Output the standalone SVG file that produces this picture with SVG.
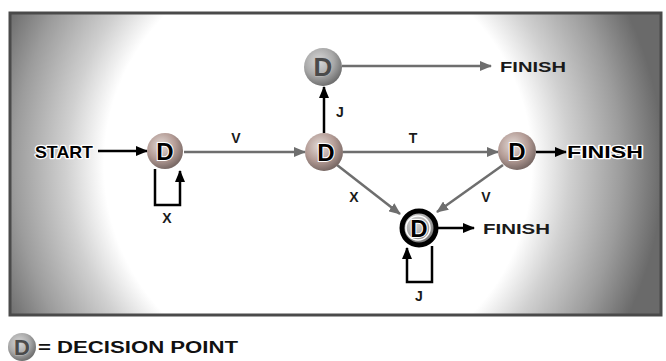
<svg xmlns="http://www.w3.org/2000/svg" width="666" height="361" viewBox="0 0 666 361">
  <defs>
    <radialGradient id="haze" gradientUnits="userSpaceOnUse" cx="318" cy="165" r="345">
      <stop offset="0" stop-color="#ffffff"/>
      <stop offset="0.62" stop-color="#ffffff"/>
      <stop offset="0.73" stop-color="#d0d0d0"/>
      <stop offset="0.88" stop-color="#9c9c9c"/>
      <stop offset="1" stop-color="#6a6a6a"/>
    </radialGradient>
    <radialGradient id="ball" cx="0.4" cy="0.35" r="0.65">
      <stop offset="0" stop-color="#e4dcd8"/>
      <stop offset="0.6" stop-color="#b49c96"/>
      <stop offset="1" stop-color="#7a6a66"/>
    </radialGradient>
    <radialGradient id="ballGrey" cx="0.4" cy="0.35" r="0.65">
      <stop offset="0" stop-color="#d8d8d8"/>
      <stop offset="0.6" stop-color="#a8a8a8"/>
      <stop offset="1" stop-color="#707070"/>
    </radialGradient>
    <marker id="ahBlack" markerUnits="userSpaceOnUse" markerWidth="12" markerHeight="10" refX="11" refY="5" orient="auto">
      <path d="M0,0 L12,5 L0,10 Z" fill="#000"/>
    </marker>
    <marker id="ahGrey" markerUnits="userSpaceOnUse" markerWidth="12" markerHeight="10" refX="11" refY="5" orient="auto">
      <path d="M0,0 L12,5 L0,10 Z" fill="#6e6e6e"/>
    </marker>
  </defs>
  <style>
    .txt { font-family: "Liberation Sans", Arial, sans-serif; font-weight: bold; }
    .heavy { font-size: 17px; fill: #000; stroke: #fff; stroke-width: 2.5; paint-order: stroke; stroke-linejoin: round; }
    .finish { font-size: 15px; fill: #1a1a1a; }
    .lbl { font-size: 14px; fill: #1a1a1a; text-anchor: middle; }
    .legend { font-size: 16px; fill: #111; }
    .dark { fill: none; stroke: #000; stroke-width: 2.5; marker-end: url(#ahBlack); }
    .grey { fill: none; stroke: #6e6e6e; stroke-width: 2.5; marker-end: url(#ahGrey); }
    .sphere { fill: url(#ball); }
    .sphereGrey { fill: url(#ballGrey); }
    .nodeD { font-family: "Liberation Sans", Arial, sans-serif; font-weight: bold; font-size: 24px; text-anchor: middle; fill: #000; stroke: #fff; stroke-width: 2; paint-order: stroke; }
    .nodeDsoft { font-family: "Liberation Sans", Arial, sans-serif; font-weight: bold; font-size: 26px; text-anchor: middle; fill: #4a4a4a; stroke: #bdbdbd; stroke-width: 1; paint-order: stroke; }
  </style>

  <!-- panel with hazy grey edges -->
  <rect x="10" y="13" width="651" height="302" fill="url(#haze)" stroke="#4a4a4a" stroke-width="3"/>

  <!-- connectors -->
  <g id="connectors">
    <path class="dark" d="M98,151 H147"/>
    <path class="grey" d="M184,152 H305"/>
    <path class="dark" d="M155,169 V205 H180 V171"/>
    <path class="dark" d="M324,133 V87"/>
    <path class="grey" d="M342,66 H491"/>
    <path class="grey" d="M343,152 H498"/>
    <path class="dark" d="M536,152 H566"/>
    <path class="grey" d="M337,165 L400,214"/>
    <path class="grey" d="M503,165 L437,212"/>
    <path class="dark" d="M438,228 H474"/>
    <path class="dark" d="M432,246 V282 H407 V248"/>
  </g>

  <!-- edge labels -->
  <g id="edge-labels" class="txt">
    <text class="lbl" x="236" y="143">V</text>
    <text class="lbl" x="167" y="223">X</text>
    <text class="lbl" x="340" y="117">J</text>
    <text class="lbl" x="413" y="143">T</text>
    <text class="lbl" x="354" y="202">X</text>
    <text class="lbl" x="486" y="202">V</text>
    <text class="lbl" x="419" y="301">J</text>
  </g>

  <!-- start / finish terminals -->
  <g id="start" class="txt"><text class="heavy" x="35" y="158" textLength="58" lengthAdjust="spacingAndGlyphs">START</text></g>
  <g id="finish-top" class="txt"><text class="finish" x="500" y="72" textLength="66" lengthAdjust="spacingAndGlyphs">FINISH</text></g>
  <g id="finish-right" class="txt"><text class="heavy" x="567" y="158" textLength="76" lengthAdjust="spacingAndGlyphs">FINISH</text></g>
  <g id="finish-bottom" class="txt"><text class="finish" x="483" y="234" textLength="67" lengthAdjust="spacingAndGlyphs">FINISH</text></g>

  <!-- decision points -->
  <g id="d1">
    <circle class="sphere" cx="165" cy="151" r="18"/>
    <text class="nodeD" x="165" y="160">D</text>
  </g>
  <g id="d2">
    <circle class="sphere" cx="324" cy="152" r="19"/>
    <text class="nodeD" x="326" y="161">D</text>
  </g>
  <g id="d3">
    <circle class="sphereGrey" cx="323" cy="67" r="19"/>
    <text class="nodeDsoft" x="323" y="76">D</text>
  </g>
  <g id="d4">
    <circle class="sphere" cx="517" cy="151" r="19"/>
    <text class="nodeD" x="517" y="160">D</text>
  </g>
  <g id="d5">
    <circle class="sphereGrey" cx="419" cy="228" r="17" stroke="#000" stroke-width="5"/>
    <circle cx="418" cy="228" r="12" fill="none" stroke="#fff" stroke-width="1.5"/>
    <text class="nodeD" x="419" y="237">D</text>
  </g>

  <!-- legend -->
  <g id="legend">
    <circle class="sphereGrey" cx="22" cy="347" r="14"/>
    <text class="nodeDsoft" x="22" y="355" style="font-size:22px">D</text>
    <text class="txt legend" x="38" y="353" textLength="200" lengthAdjust="spacingAndGlyphs">= DECISION POINT</text>
  </g>
</svg>
